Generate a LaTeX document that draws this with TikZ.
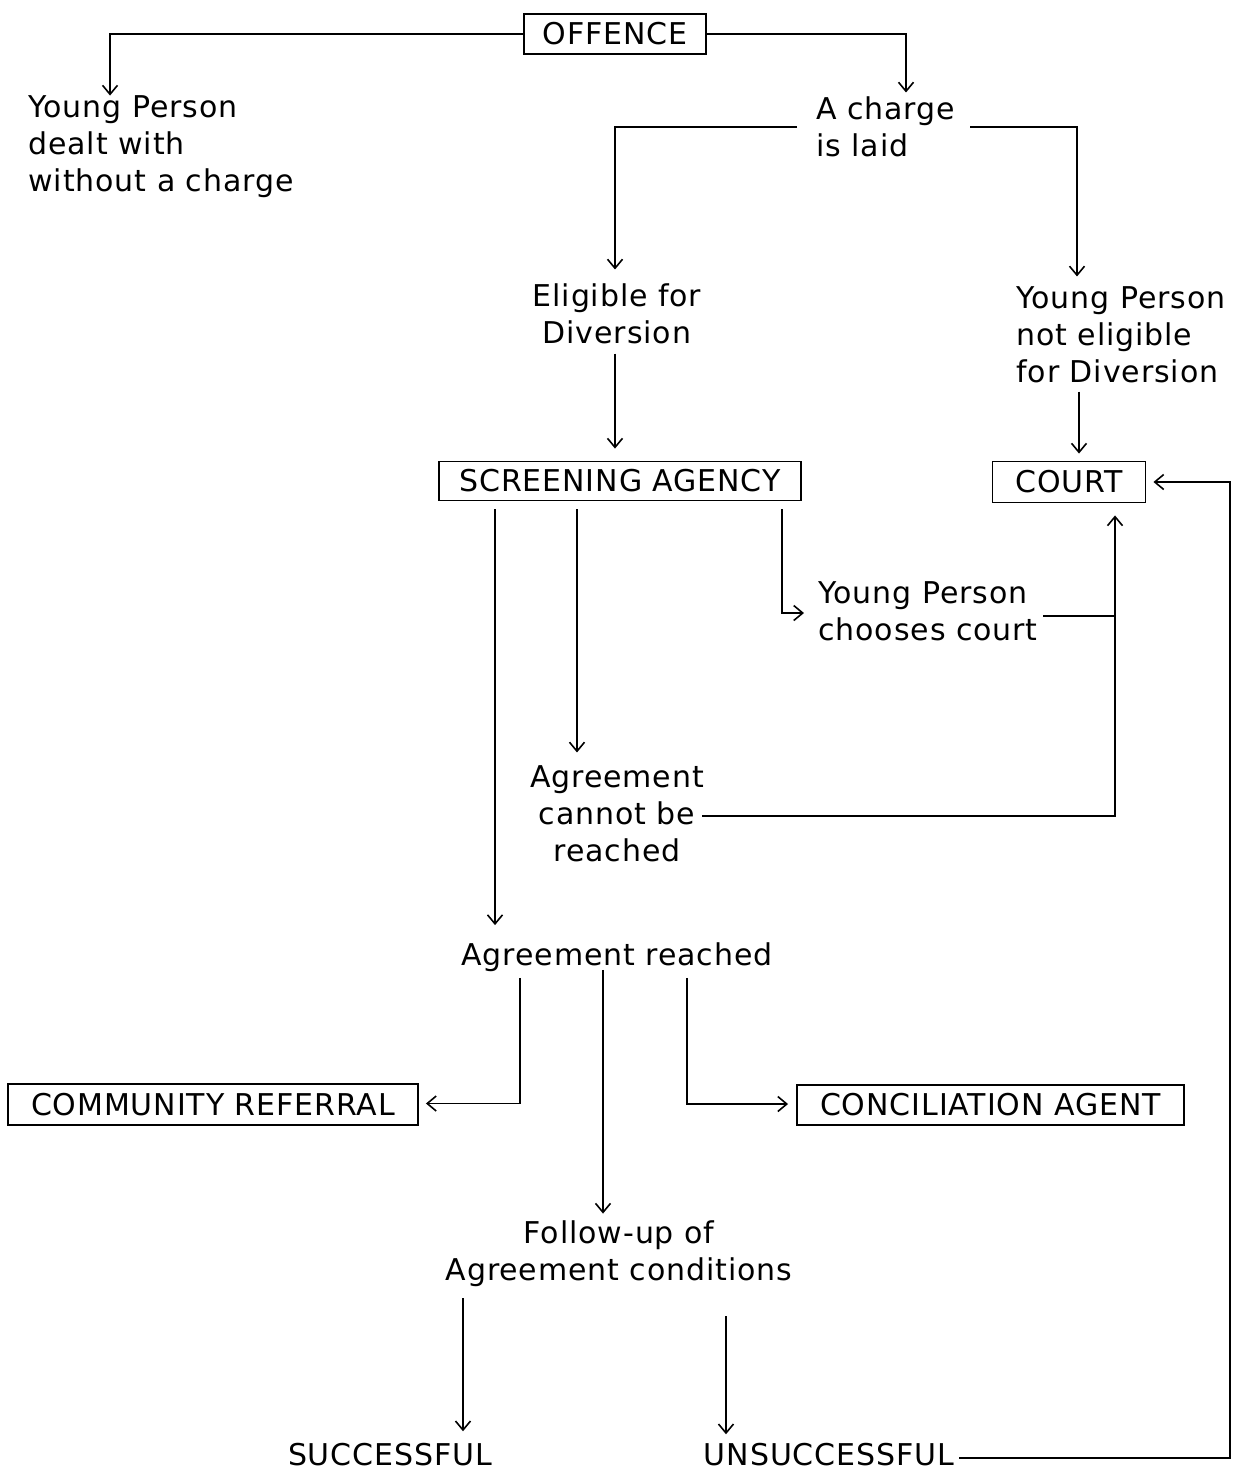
\documentclass[tikz,border=0pt]{standalone}
\usepackage{fontspec}
\setmainfont{DejaVu Sans}[LetterSpace=3]
\usetikzlibrary{arrows.meta,calc}
\begin{document}
\begin{tikzpicture}[x=0.5pt,y=-0.5pt,
  lbl/.style={inner sep=2pt, font=\fontsize{15}{18.5}\selectfont},
  boxed/.style={draw, line width=0.95pt, inner sep=0pt, font=\fontsize{15}{18.5}\selectfont},
  conn/.style={line width=0.8pt},
  arr/.style={conn, -{Straight Barb[length=4.5pt,width=7.5pt,line width=0.8pt]}}]
\useasboundingbox (0,0) rectangle (1238,1473);

% nodes
\node[boxed,minimum width=91pt,minimum height=20pt] (offence) at (615,34) {OFFENCE};
\node[lbl,align=left,anchor=west] (yp1) at (24,147) {Young Person\\dealt with\\without a charge};
\node[lbl,align=left,anchor=west] (charge) at (812,127) {A charge\\is laid};
\node[lbl,align=center] (elig) at (617,314) {Eligible for\\Diversion};
\node[lbl,align=left,anchor=west] (notelig) at (1012,335) {Young Person\\not eligible\\for Diversion};
\node[boxed,minimum width=181pt,minimum height=19.5pt] (screen) at (620,481) {SCREENING AGENCY};
\node[boxed,minimum width=76.5pt,minimum height=20.5pt] (court) at (1069,482) {COURT};
\node[lbl,align=left,anchor=west] (chooses) at (814,611) {Young Person\\chooses court};
\node[lbl,align=center] (cannot) at (617,814) {Agreement\\cannot be\\reached};
\node[lbl] (reached) at (617,957) {Agreement reached};
\node[boxed,minimum width=205pt,minimum height=20.5pt] (community) at (213,1104.5) {COMMUNITY REFERRAL};
\node[boxed,minimum width=193.5pt,minimum height=20pt] (concil) at (990.5,1105) {CONCILIATION AGENT};
\node[lbl,align=center] (follow) at (619,1254) {Follow-up of\\Agreement conditions};
\node[lbl,inner sep=1pt] (succ) at (390,1455) {SUCCESSFUL};
\node[lbl,inner sep=1pt] (unsucc) at (829,1455) {UNSUCCESSFUL};

% connectors
\draw[arr] (offence.west) -| ($(yp1.north -| 110,0)+(0,4)$);
\draw[arr] (offence.east) -| ($(charge.north -| 906,0)+(0,0)$);
\draw[arr] ($(charge.west)+(-15,0)$) -| ($(elig.north -| 615,0)+(0,-10)$);
\draw[arr] ($(charge.east)+(11,0)$) -| ($(notelig.north -| 1077,0)+(0,-6)$);
\draw[arr] ($(elig.south -| 615,0)+(0,5)$) -- ($(screen.north -| 615,0)+(0,-12)$);
\draw[arr] ($(notelig.south -| 1079,0)+(0,4)$) -- ($(court.north -| 1079,0)+(0,-7)$);
\draw[arr] ($(screen.south -| 495,0)+(0,8)$) -- ($(reached.north -| 495,0)+(0,-13)$);
\draw[arr] ($(screen.south -| 577,0)+(0,8)$) -- ($(cannot.north -| 577,0)+(0,-9)$);
\draw[arr] ($(screen.south -| 782,0)+(0,8)$) |- ($(chooses.west)+(-10,2)$);
\draw[conn] ($(chooses.east)+(1,5)$) -- ($(chooses.east -| 1115,0)+(0,5)$);
\draw[arr] ($(cannot.east)+(-6,2)$) -| ($(court.south -| 1115,0)+(0,12)$);
\draw[arr] ($(unsucc.east)+(3,3)$) -| (1230,0 |- court.east) -- ($(court.east)+(7,0)$);
\draw[arr] ($(reached.south -| 520,0)+(0,2)$) |- ($(community.east)+(7,-1)$);
\draw[arr] ($(reached.south -| 603,0)+(0,-6)$) -- ($(follow.north -| 603,0)+(0,-3)$);
\draw[arr] ($(reached.south -| 687,0)+(0,2)$) |- ($(concil.west)+(-8,-1)$);
\draw[arr] ($(follow.south -| 463,0)+(0,7)$) -- ($(succ.north -| 463,0)+(0,-10)$);
\draw[arr] ($(follow.south -| 726,0)+(0,25)$) -- ($(unsucc.north -| 726,0)+(0,-7)$);
\end{tikzpicture}
\end{document}
